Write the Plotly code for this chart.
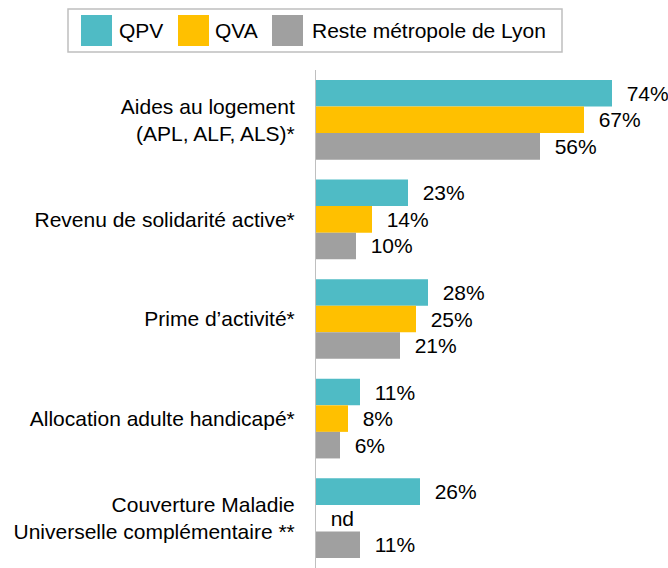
import plotly.graph_objects as go

categories = [
    "Aides au logement<br>(APL, ALF, ALS)*",
    "Revenu de solidarité active*",
    "Prime d’activité*",
    "Allocation adulte handicapé*",
    "Couverture Maladie<br>Universelle complémentaire **",
]
series_names = ["QPV", "QVA", "Reste métropole de Lyon"]
qpv = [74, 23, 28, 11, 26]
qva = [67, 14, 25, 8, None]
reste = [56, 10, 21, 6, 11]
colors = ["#4FBBC5", "#FFC000", "#A0A0A0"]

FONT = "Liberation Sans, Arial, sans-serif"
pad = "\u00a0\u00a0"

fig = go.Figure()
for name, vals, col in zip(series_names, [qpv, qva, reste], colors):
    xs = [v if v is not None else 0 for v in vals]
    txt = [pad + (f"{v}%" if v is not None else "nd") for v in vals]
    fig.add_trace(go.Bar(
        y=categories, x=xs, name=name, orientation="h",
        marker=dict(color=col, line=dict(width=0)),
        text=txt, textposition="outside", textfont=dict(size=21, color="#000", family=FONT),
        constraintext="none", cliponaxis=False, showlegend=False,
    ))

# manual legend (large square swatches)
L, T, W, H = 316, 70, 352, 498
shapes = [dict(type="rect", xref="paper", yref="paper",
               x0=(68 - L) / W, x1=(562 - L) / W,
               y0=1 + (T - 52) / H, y1=1 + (T - 9) / H,
               line=dict(color="#BFBFBF", width=1.5), fillcolor="white")]
swatch_x = [81, 178, 272]
text_x = [117, 213, 310]
annotations = []
for sx, tx, name, col in zip(swatch_x, text_x, series_names, colors):
    shapes.append(dict(type="rect", xref="paper", yref="paper",
                       x0=(sx - L) / W, x1=(sx + 31 - L) / W,
                       y0=1 + (T - 46) / H, y1=1 + (T - 15) / H,
                       line=dict(width=0), fillcolor=col))
    annotations.append(dict(xref="paper", yref="paper", x=(tx - L) / W,
                            y=1 + (T - 31) / H, text=name, showarrow=False,
                            xanchor="left", yanchor="middle",
                            font=dict(size=21, color="#000", family=FONT)))

fig.update_layout(
    width=668, height=568,
    margin=dict(l=L, r=0, t=T, b=0),
    barmode="group", bargap=0.2, bargroupgap=0,
    plot_bgcolor="white", paper_bgcolor="white",
    shapes=shapes, annotations=annotations,
    font=dict(family=FONT, size=21, color="#000"),
    xaxis=dict(range=[0, 88], showgrid=False, zeroline=False, showticklabels=False,
               showline=False, fixedrange=True),
    yaxis=dict(autorange="reversed", showgrid=False, zeroline=False, showline=True,
               linecolor="#BFBFBF", linewidth=1, ticks="", ticklabelstandoff=16,
               tickfont=dict(size=21, color="#000", family=FONT)),
)
fig.write_html("out.html", config={"displayModeBar": False},
               post_script="document.body.style.margin='0';document.body.style.overflow='hidden';")
